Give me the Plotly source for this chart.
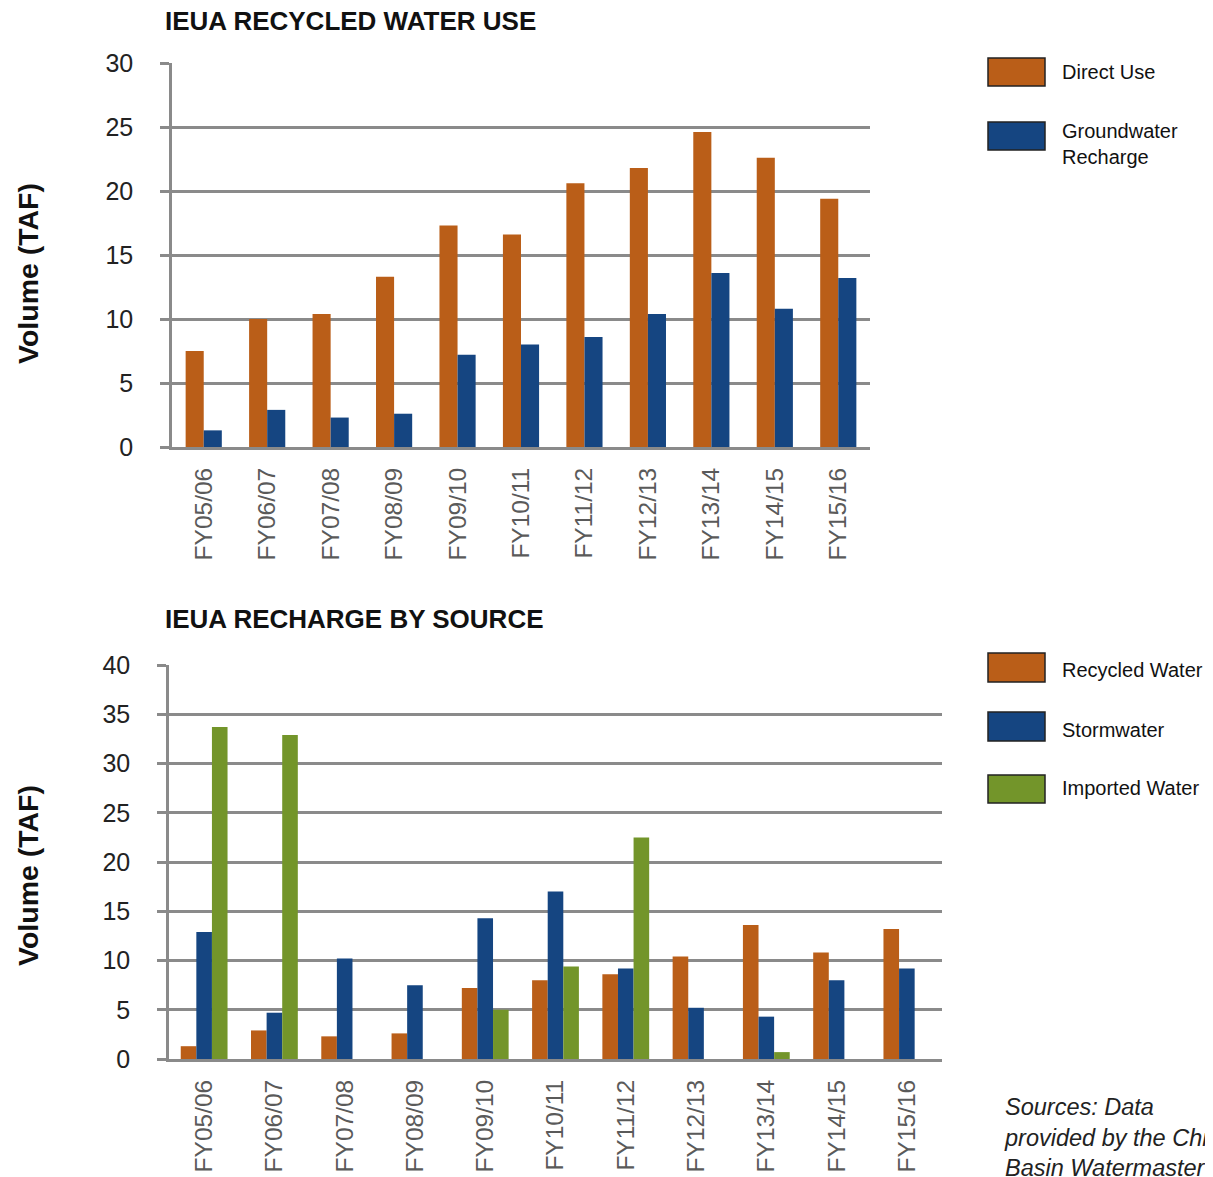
import plotly.graph_objects as go

W, H = 1213, 1177
OFF = 8  # page body margin offset

years = ["FY05/06", "FY06/07", "FY07/08", "FY08/09", "FY09/10", "FY10/11",
         "FY11/12", "FY12/13", "FY13/14", "FY14/15", "FY15/16"]

# Top chart: IEUA recycled water use (TAF)
direct_use = [7.5, 10.0, 10.4, 13.3, 17.3, 16.6, 20.6, 21.8, 24.6, 22.6, 19.4]
gw_recharge = [1.3, 2.9, 2.3, 2.6, 7.2, 8.0, 8.6, 10.4, 13.6, 10.8, 13.2]

# Bottom chart: IEUA recharge by source (TAF)
recycled = [1.3, 2.9, 2.3, 2.6, 7.2, 8.0, 8.6, 10.4, 13.6, 10.8, 13.2]
stormwater = [12.9, 4.7, 10.2, 7.5, 14.3, 17.0, 9.2, 5.2, 4.3, 8.0, 9.2]
imported = [33.7, 32.9, 0, 0, 5.0, 9.4, 22.5, 0, 0.7, 0, 0]

top_y_ticks = [0, 5, 10, 15, 20, 25, 30]
bot_y_ticks = [0, 5, 10, 15, 20, 25, 30, 35, 40]

ORANGE = "#BA5E18"
BLUE = "#154581"
GREEN = "#73952A"
GRID = "#8a8a8a"

SANS = "Liberation Sans, Arial, Helvetica, sans-serif"

TOP_W = 0.285   # bar width (category units), top chart
BOT_W = 0.222   # bar width (category units), bottom chart


def px_x(p):
    return (p - OFF) / W


def px_y(p):
    return 1 - (p - OFF) / H


fig = go.Figure()

fig.add_trace(go.Bar(x=years, y=direct_use, name="Direct Use", marker_color=ORANGE,
                     width=TOP_W, offset=-TOP_W, marker_line_width=0,
                     xaxis="x", yaxis="y", showlegend=False))
fig.add_trace(go.Bar(x=years, y=gw_recharge, name="Groundwater Recharge", marker_color=BLUE,
                     width=TOP_W, offset=0, marker_line_width=0,
                     xaxis="x", yaxis="y", showlegend=False))

fig.add_trace(go.Bar(x=years, y=recycled, name="Recycled Water", marker_color=ORANGE,
                     width=BOT_W, offset=-1.5 * BOT_W, marker_line_width=0,
                     xaxis="x2", yaxis="y2", showlegend=False))
fig.add_trace(go.Bar(x=years, y=stormwater, name="Stormwater", marker_color=BLUE,
                     width=BOT_W, offset=-0.5 * BOT_W, marker_line_width=0,
                     xaxis="x2", yaxis="y2", showlegend=False))
fig.add_trace(go.Bar(x=years, y=imported, name="Imported Water", marker_color=GREEN,
                     width=BOT_W, offset=0.5 * BOT_W, marker_line_width=0,
                     xaxis="x2", yaxis="y2", showlegend=False))

xaxis_common = dict(
    type="category", showgrid=False, showline=True, linecolor=GRID, linewidth=3,
    ticks="", tickangle=-90, tickfont=dict(family=SANS, size=24.5, color="#5a5a5a"),
    ticklabelstandoff=8, zeroline=False, fixedrange=True, automargin=False,
)
yaxis_common = dict(
    showgrid=True, gridcolor=GRID, gridwidth=2.5, showline=True, linecolor=GRID, linewidth=2.5,
    ticks="outside", ticklen=9, tickwidth=2.5, tickcolor=GRID,
    tickfont=dict(family=SANS, size=25, color="#222222"), ticklabelstandoff=22,
    zeroline=False, dtick=5, fixedrange=True, automargin=False,
)

fig.update_layout(
    width=W, height=H, margin=dict(l=0, r=0, t=0, b=0, pad=0, autoexpand=False),
    paper_bgcolor="white", plot_bgcolor="white",
    barmode="overlay",
    xaxis=dict(domain=[px_x(172), px_x(870)], anchor="y", **xaxis_common),
    yaxis=dict(domain=[px_y(447), px_y(63)], anchor="x", range=[0, 30],
               tickvals=top_y_ticks, **yaxis_common),
    xaxis2=dict(domain=[px_x(169), px_x(942)], anchor="y2", **xaxis_common),
    yaxis2=dict(domain=[px_y(1059), px_y(665)], anchor="x2", range=[0, 40],
                tickvals=bot_y_ticks, **yaxis_common),
    showlegend=False,
)

annotations = []
shapes = []

# Titles
annotations.append(dict(text="<b>IEUA RECYCLED WATER USE</b>", x=px_x(163), y=px_y(21), xref="paper", yref="paper",
                        xanchor="left", yanchor="middle", showarrow=False,
                        font=dict(family=SANS, size=26, color="#111111")))
annotations.append(dict(text="<b>IEUA RECHARGE BY SOURCE</b>", x=px_x(163), y=px_y(619), xref="paper", yref="paper",
                        xanchor="left", yanchor="middle", showarrow=False,
                        font=dict(family=SANS, size=26, color="#111111")))

# Y axis titles
for yc in (274, 876):
    annotations.append(dict(text="<b>Volume (TAF)</b>", x=px_x(28), y=px_y(yc), xref="paper", yref="paper",
                            xanchor="center", yanchor="middle", showarrow=False, textangle=-90,
                            font=dict(family=SANS, size=28.5, color="#111111")))

# Custom legends (swatch boxes + labels)
legend_items = [
    (ORANGE, "Direct Use", 58, 86, 72),
    (BLUE, "Groundwater<br>Recharge", 122, 150, 144),
    (ORANGE, "Recycled Water", 653, 682, 670),
    (BLUE, "Stormwater", 712, 741, 730),
    (GREEN, "Imported Water", 775, 803, 788),
]
for color, label, y0, y1, ty in legend_items:
    shapes.append(dict(type="rect", xref="paper", yref="paper",
                       x0=px_x(988), x1=px_x(1045), y0=px_y(y1), y1=px_y(y0),
                       fillcolor=color, line=dict(color="#222222", width=1.5)))
    annotations.append(dict(text=label, x=px_x(1060), y=px_y(ty), xref="paper", yref="paper",
                            xanchor="left", yanchor="middle", align="left", showarrow=False,
                            font=dict(family=SANS, size=20, color="#111111")))

# Source note
annotations.append(dict(text="<i>Sources: Data<br>provided by the Chino<br>Basin Watermaster</i>",
                        x=px_x(1002), y=px_y(1137), xref="paper", yref="paper",
                        xanchor="left", yanchor="middle", align="left", showarrow=False,
                        font=dict(family=SANS, size=23.5, color="#222222")))

fig.update_layout(annotations=annotations, shapes=shapes)

fig.write_html("out.html")
